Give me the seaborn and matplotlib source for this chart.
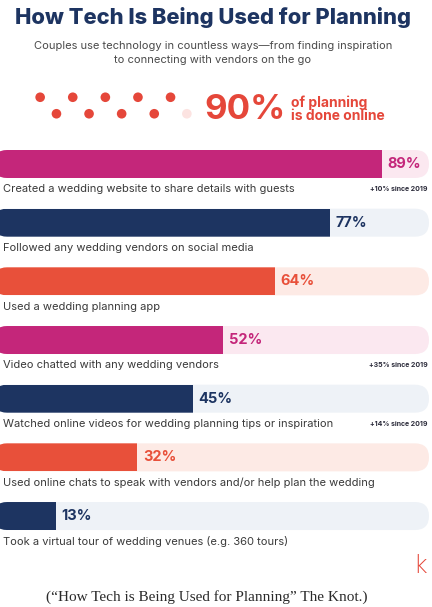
import matplotlib
matplotlib.use("Agg")
import matplotlib.pyplot as plt
from matplotlib.patches import FancyBboxPatch
import seaborn as sns
import pandas as pd

# ---- data -------------------------------------------------------------
activities = [
    "Created a wedding website to share details with guests",
    "Followed any wedding vendors on social media",
    "Used a wedding planning app",
    "Video chatted with any wedding vendors",
    "Watched online videos for wedding planning tips or inspiration",
    "Used online chats to speak with vendors and/or help plan the wedding",
    "Took a virtual tour of wedding venues (e.g. 360 tours)",
]
shares = [89, 77, 64, 52, 45, 32, 13]
changes = ["+10% since 2019", "", "", "+35% since 2019", "+14% since 2019", "", ""]
online_share = 90

title = "How Tech Is Being Used for Planning"
subtitle = ("Couples use technology in countless ways\u2014from finding inspiration\n"
            "to connecting with vendors on the go")
caption = "(\u201cHow Tech is Being Used for Planning\u201d The Knot.)"

# ---- styling ----------------------------------------------------------
MAGENTA, NAVY, CORAL = "#C4267A", "#1D3461", "#E8503A"
bar_colors = [MAGENTA, NAVY, CORAL, MAGENTA, NAVY, CORAL, NAVY]
track_of = {MAGENTA: "#FBE8F0", NAVY: "#EEF2F7", CORAL: "#FDEAE5"}
track_colors = [track_of[c] for c in bar_colors]

sns.set_theme(style="white")
plt.rcParams["font.family"] = ["Inter", "DejaVu Sans"]

W, H = 432, 607
fig = plt.figure(figsize=(W / 100, H / 100), dpi=100)
fig.patch.set_facecolor("white")

# ---- bar panel ---------------------------------------------------------
spacing = 58.67
top_px = 164 - spacing / 2
ax = fig.add_axes([0, 1 - (top_px + 7 * spacing) / H, 429 / W, 7 * spacing / H])

df = pd.DataFrame({"activity": activities, "share": shares,
                   "full": [100] * len(shares)})
bar_w = 28 / spacing

sns.barplot(data=df, x="full", y="activity", hue="activity",
            palette=track_colors, saturation=1, width=bar_w, legend=False, ax=ax)
n = len(activities)
tracks = list(ax.patches[:n])

# rounded tracks (x unit = 4.29 px, y unit = spacing px)
px_x = 429 / 100
r_x = 14 / px_x
aspect = (14 / spacing) / r_x
rounded = []
for p in tracks:
    x0, y0, w, h = p.get_x(), p.get_y(), p.get_width(), p.get_height()
    fb = FancyBboxPatch((x0 - 1.6, y0), w + 1.6, h,
                        boxstyle=f"round,pad=0,rounding_size={r_x}",
                        mutation_aspect=aspect, facecolor=p.get_facecolor(),
                        edgecolor="none", zorder=1)
    p.remove()
    ax.add_patch(fb)
    rounded.append(fb)

sns.barplot(data=df, x="share", y="activity", hue="activity",
            palette=bar_colors, saturation=1, width=bar_w, legend=False, ax=ax)
bars = [p for p in ax.patches if p not in rounded]
for p, clip in zip(bars, rounded):
    p.set_zorder(2)
    p.set_edgecolor("none")
    p.set_clip_path(clip)

ax.set_xlim(0, 100)
ax.set_ylim(n - 0.5, -0.5)
ax.axis("off")

for i, (lab, v, col, chg) in enumerate(zip(activities, shares, bar_colors, changes)):
    ax.text(v + 1.3, i, f"{v}%", color=col, fontsize=10.5, fontweight="bold",
            va="center", ha="left", zorder=3)
    ax.text(0.7, i + 0.43, lab, color="#3a3a3a", fontsize=8.0,
            va="center", ha="left")
    if chg:
        ax.text(99.6, i + 0.43, chg, color="#2b2b3a", fontsize=5.0,
                fontweight="bold", va="center", ha="right")

# ---- header ------------------------------------------------------------
fig.text(213 / W, 1 - 18 / H, title, ha="center", va="center",
         fontsize=15.8, fontweight="heavy", color="#1D3461")
fig.text(213 / W, 1 - 53 / H, subtitle, ha="center", va="center",
         fontsize=8.0, color="#4a4a4a", linespacing=1.4)

# dot strip: ten dots, one per 10% of planning
n_dots = 10
filled = online_share // 10
dots = pd.DataFrame({"i": range(n_dots),
                     "row": [k % 2 for k in range(n_dots)],
                     "on": ["on" if k < filled else "off" for k in range(n_dots)]})
axd = fig.add_axes([32 / W, 1 - 122 / H, 163 / W, 33 / H])
sns.scatterplot(data=dots, x="i", y="row", hue="on",
                palette={"on": "#E5473A", "off": "#FCE3E1"},
                s=48, linewidth=0, legend=False, ax=axd)
axd.set_xlim(-0.5, n_dots - 0.5)
axd.set_ylim(1.5, -0.5)
axd.axis("off")

fig.text(204 / W, 1 - 110 / H, f"{online_share}%", ha="left", va="center",
         fontsize=25, fontweight="bold", color="#E5473A")
fig.text(291 / W, 1 - 109 / H, "of planning\nis done online", ha="left",
         va="center", fontsize=10, fontweight="bold", color="#E5473A",
         linespacing=0.95)

# ---- footer ------------------------------------------------------------
fig.text(420 / W, 1 - 566 / H, "k", ha="center", va="center", fontsize=17,
         color="#E5473A", family=["DejaVu Sans"], fontweight="light")
fig.text(207 / W, 1 - 597 / H, caption, ha="center", va="center",
         fontsize=11, color="#2a2a2a", family=["Liberation Serif", "DejaVu Serif"])

fig.savefig("out.png", dpi=100, facecolor="white")
